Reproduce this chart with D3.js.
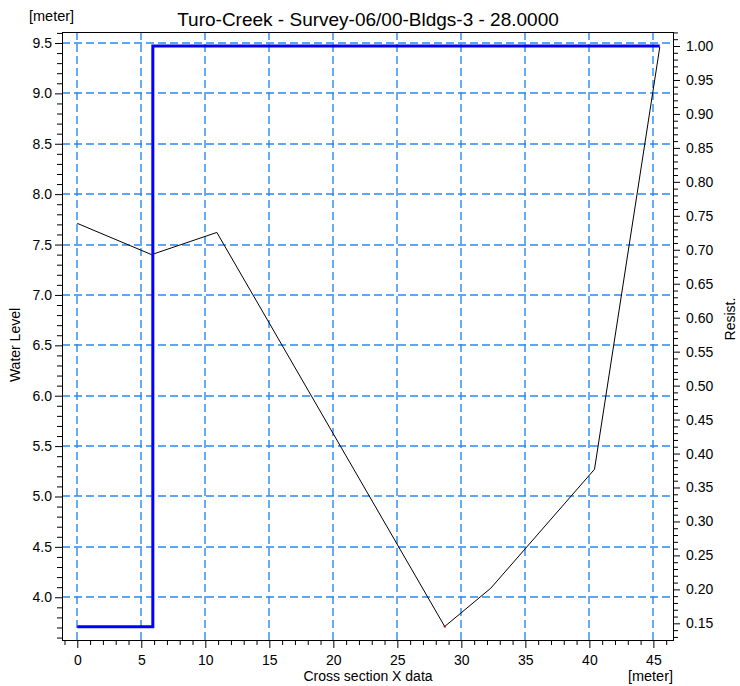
<!DOCTYPE html>
<html>
<head>
<meta charset="utf-8">
<script src="https://cdn.jsdelivr.net/npm/d3@7"></script>
<style>
  html, body { margin: 0; padding: 0; background: #fff; }
  svg text { font-family: "Liberation Sans", Arial, sans-serif; fill: #000; }
</style>
</head>
<body>
<svg id="chart" width="740" height="686"></svg>
<script>
// Cross-section profile (water level axis)
const sectionX = [0, 5.8, 10.9, 28.7, 32.3, 40.4, 45.5];
const sectionZ = [7.71, 7.40, 7.62, 3.71, 4.09, 5.27, 9.46];

// Resistance factor across the section (right axis)
const resistX = [0, 5.9, 5.9, 45.5];
const resistR = [0.145, 0.145, 1.0, 1.0];

// Axis tick values
const xTicks = [0, 5, 10, 15, 20, 25, 30, 35, 40, 45];
const levelTicks = [4.0, 4.5, 5.0, 5.5, 6.0, 6.5, 7.0, 7.5, 8.0, 8.5, 9.0, 9.5];
const resistTicks = [0.15, 0.20, 0.25, 0.30, 0.35, 0.40, 0.45, 0.50, 0.55, 0.60,
                     0.65, 0.70, 0.75, 0.80, 0.85, 0.90, 0.95, 1.00];

const titleText = "Turo-Creek - Survey-06/00-Bldgs-3 - 28.0000";

const svg = d3.select("#chart");
const L = 62, R = 674, T = 32, B = 641;
const FS = 14;

const x = d3.scaleLinear().domain([-1.195, 46.61]).range([L, R]);
const yL = d3.scaleLinear().domain([3.566, 9.609]).range([B, T]);
const yR = d3.scaleLinear().domain([0.124, 1.0206]).range([B, T]);

// Grid
const grid = svg.append("g")
  .attr("stroke", "#2a88f0")
  .attr("stroke-width", 1.4)
  .attr("stroke-dasharray", "8,4");
grid.selectAll(null).data(xTicks).enter().append("line")
  .attr("x1", d => Math.round(x(d))).attr("x2", d => Math.round(x(d)))
  .attr("y1", T).attr("y2", B);
grid.selectAll(null).data(levelTicks).enter().append("line")
  .attr("y1", d => Math.round(yL(d))).attr("y2", d => Math.round(yL(d)))
  .attr("x1", L).attr("x2", R);

// Cross-section line
svg.append("path")
  .datum(sectionX.map((d, i) => [d, sectionZ[i]]))
  .attr("fill", "none").attr("stroke", "#000").attr("stroke-width", 1)
  .attr("d", d3.line().x(d => x(d[0])).y(d => yL(d[1])));

// Resistance line
svg.append("path")
  .datum(resistX.map((d, i) => [d, resistR[i]]))
  .attr("fill", "none").attr("stroke", "#0000ff").attr("stroke-width", 3)
  .attr("d", d3.line().x(d => x(d[0])).y(d => yR(d[1])));

// Lowest point marker
const iMin = sectionZ.indexOf(d3.min(sectionZ));
svg.append("rect")
  .attr("x", x(sectionX[iMin]) - 1).attr("y", yL(sectionZ[iMin]) - 1)
  .attr("width", 2).attr("height", 2).attr("fill", "#c00000");

// Frame
svg.append("rect").attr("x", L + 0.5).attr("y", T + 0.5)
  .attr("width", R - L - 1).attr("height", B - T - 1)
  .attr("fill", "none").attr("stroke", "#000").attr("stroke-width", 1);

function styleAxis(g) {
  g.select(".domain").remove();
  g.selectAll("line").attr("stroke", "#000");
  g.selectAll("text").attr("font-size", FS).attr("fill", "#000")
    .attr("font-family", "Liberation Sans, Arial, sans-serif");
}

// Bottom axis with minor ticks
const xMinor = d3.range(-1, 47, 1).filter(v => v % 5 !== 0);
svg.append("g").attr("transform", `translate(0,${B})`)
  .call(d3.axisBottom(x).tickValues(xMinor).tickSize(4).tickFormat(""))
  .call(styleAxis);
svg.append("g").attr("transform", `translate(0,${B})`)
  .call(d3.axisBottom(x).tickValues(xTicks).tickSize(7).tickPadding(7).tickFormat(d3.format("d")))
  .call(styleAxis);

// Left axis with minor ticks
const lMinor = d3.range(36, 97, 1).map(v => v / 10).filter(v => Math.round(v * 10) % 5 !== 0);
svg.append("g").attr("transform", `translate(${L},0)`)
  .call(d3.axisLeft(yL).tickValues(lMinor).tickSize(5).tickFormat(""))
  .call(styleAxis);
svg.append("g").attr("transform", `translate(${L},0)`)
  .call(d3.axisLeft(yL).tickValues(levelTicks).tickSize(7).tickPadding(3).tickFormat(d3.format(".1f")))
  .call(styleAxis);

// Right axis with minor ticks
const rMinor = d3.range(13, 103, 1).map(v => v / 100).filter(v => Math.round(v * 100) % 5 !== 0);
svg.append("g").attr("transform", `translate(${R},0)`)
  .call(d3.axisRight(yR).tickValues(rMinor).tickSize(4).tickFormat(""))
  .call(styleAxis);
svg.append("g").attr("transform", `translate(${R},0)`)
  .call(d3.axisRight(yR).tickValues(resistTicks).tickSize(6).tickPadding(6).tickFormat(d3.format(".2f")))
  .call(styleAxis);

// Titles and units
svg.append("text").attr("x", 368).attr("y", 26).attr("text-anchor", "middle")
  .attr("font-size", 19).text(titleText);
svg.append("text").attr("x", 29).attr("y", 21).attr("font-size", 14.5).text("[meter]");
svg.append("text").attr("x", 368).attr("y", 681).attr("text-anchor", "middle")
  .attr("font-size", FS).text("Cross section X data");
svg.append("text").attr("x", 673).attr("y", 681).attr("text-anchor", "end")
  .attr("font-size", 14.5).text("[meter]");
svg.append("text").attr("transform", "translate(20,345) rotate(-90)")
  .attr("text-anchor", "middle").attr("font-size", FS).text("Water Level");
svg.append("text").attr("transform", "translate(735,319) rotate(-90)")
  .attr("text-anchor", "middle").attr("font-size", FS).text("Resist.");
</script>
</body>
</html>
